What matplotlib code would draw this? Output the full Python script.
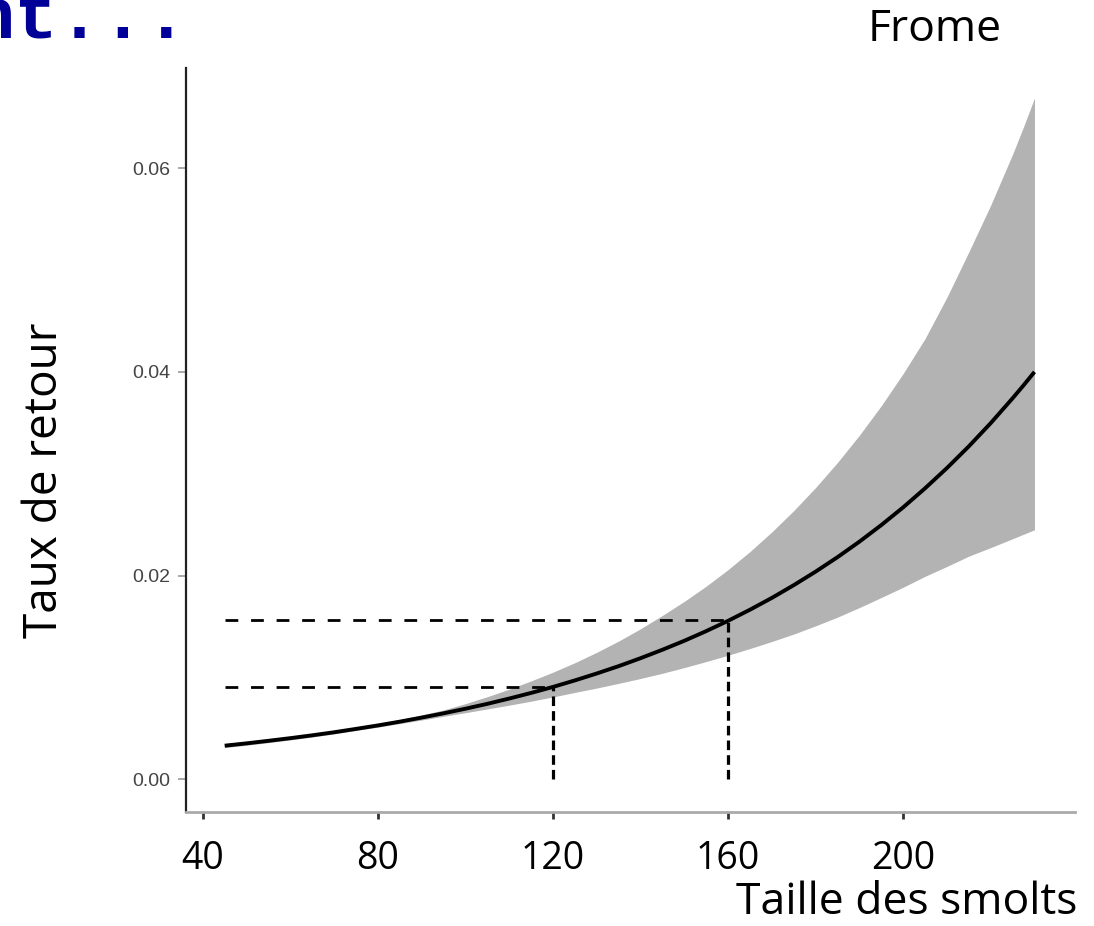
import matplotlib
matplotlib.use("Agg")
import matplotlib.pyplot as plt

# smolt size (x), fitted return rate and confidence band
taille = [45, 50, 55, 60, 65, 70, 75, 80, 85, 90, 95, 100, 105, 110, 115, 120, 125, 130, 135, 140,
          145, 150, 155, 160, 165, 170, 175, 180, 185, 190, 195, 200, 205, 210, 215, 220, 225, 227.5, 230]
taux = [0.00330, 0.00353, 0.00378, 0.00404, 0.00432, 0.00462, 0.00495, 0.00529, 0.00566, 0.00606,
        0.00648, 0.00693, 0.00741, 0.00793, 0.00848, 0.00907, 0.00971, 0.01039, 0.01111, 0.01189,
        0.01272, 0.01360, 0.01455, 0.01556, 0.01665, 0.01781, 0.01906, 0.02039, 0.02181, 0.02333,
        0.02496, 0.02670, 0.02857, 0.03056, 0.03269, 0.03497, 0.03741, 0.03868, 0.04000]
haut = [0.00350, 0.00373, 0.00397, 0.00423, 0.00450, 0.00479, 0.00510, 0.00547, 0.00586, 0.00632,
        0.00681, 0.00743, 0.00811, 0.00885, 0.00966, 0.01052, 0.01145, 0.01247, 0.01357, 0.01478,
        0.01609, 0.01747, 0.01896, 0.02059, 0.02236, 0.02429, 0.02638, 0.02865, 0.03111, 0.03378,
        0.03668, 0.03984, 0.04327, 0.04733, 0.05178, 0.05637, 0.06137, 0.06407, 0.06688]
bas = [0.00311, 0.00335, 0.00360, 0.00387, 0.00415, 0.00446, 0.00480, 0.00512, 0.00547, 0.00582,
       0.00619, 0.00654, 0.00691, 0.00728, 0.00767, 0.00809, 0.00853, 0.00896, 0.00942, 0.00990,
       0.01041, 0.01097, 0.01156, 0.01218, 0.01284, 0.01353, 0.01426, 0.01507, 0.01592, 0.01686,
       0.01785, 0.01886, 0.01993, 0.02090, 0.02191, 0.02275, 0.02362, 0.02406, 0.02450]

# reference sizes and their read-off return rates
ref_taille = [120, 160]
ref_taux = [0.0091, 0.0156]

xticks = [40, 80, 120, 160, 200]
yticks = [0.00, 0.02, 0.04, 0.06]

fig = plt.figure(figsize=(10.94, 9.26), dpi=100)
ax = fig.add_axes([0.170, 0.1231, 0.8126, 0.8035])

ax.fill_between(taille, bas, haut, color="#b3b3b3", lw=0, zorder=1)
ax.plot(taille, taux, color="black", lw=2.8, solid_capstyle="butt", zorder=3)

for xv, yv in zip(ref_taille, ref_taux):
    ax.plot([taille[0], xv], [yv, yv], color="black", lw=2,
            linestyle=(0, (4.6, 4.6)), zorder=2)
    ax.plot([xv, xv], [0, yv], color="black", lw=2.3,
            linestyle=(0, (3, 1.6)), zorder=2)

ax.set_xlim(36.16, 239.25)
ax.set_ylim(-0.00321, 0.06984)
ax.set_xticks(xticks)
ax.set_yticks(yticks)
ax.set_xticklabels([str(v) for v in xticks], fontsize=27, family="Open Sans")
ax.set_yticklabels(["%.2f" % v for v in yticks], fontsize=14,
                   family="Liberation Sans", color="#444444")

ax.tick_params(axis="x", length=5, width=2, color="#333333", pad=15)
ax.tick_params(axis="y", length=6, width=1.2, color="#999999", pad=5)

for s in ["top", "right"]:
    ax.spines[s].set_visible(False)
ax.spines["left"].set_color("#222222")
ax.spines["left"].set_linewidth(1.6)
ax.spines["bottom"].set_color("#aaaaaa")
ax.spines["bottom"].set_linewidth(2)

fig.text(45 / 1094, 1 - 480 / 926, "Taux de retour", rotation=90, ha="center",
         va="center", fontsize=33, family="Open Sans")
fig.text(1077 / 1094, 1 - 903 / 926, "Taille des smolts", ha="right",
         va="center", fontsize=32, family="Open Sans")
fig.text(935 / 1094, 1 - 30 / 926, "Frome", ha="center", va="center",
         fontsize=32, family="Open Sans")
fig.text(188 / 1094, 1 - 38 / 926, "nt...", ha="right", va="baseline",
         fontsize=52, family="Liberation Mono", weight="bold", color="#000099")

fig.savefig("out.png", dpi=100)
